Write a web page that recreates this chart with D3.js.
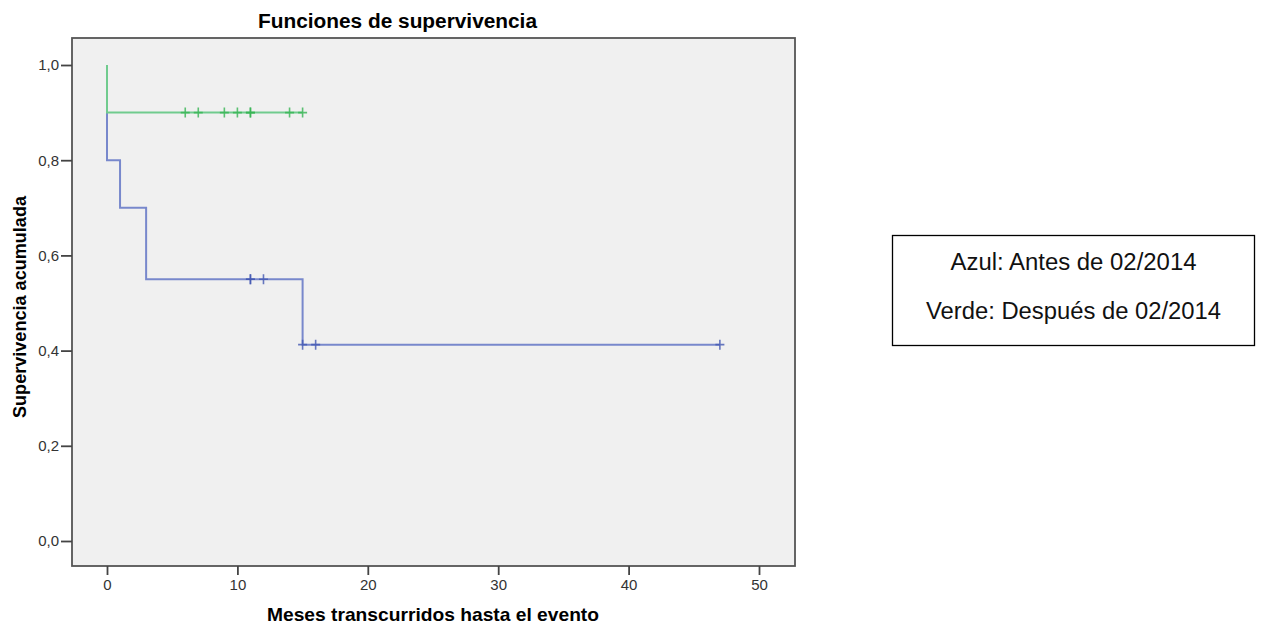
<!doctype html>
<html lang="es">
<head>
<meta charset="utf-8">
<title>Funciones de supervivencia</title>
<script src="https://cdn.jsdelivr.net/npm/d3@7"></script>
<style>
  html, body { margin: 0; padding: 0; background: #fff; }
  svg { display: block; font-family: "Liberation Sans", Arial, sans-serif; }
</style>
</head>
<body>
<svg id="chart" width="1261" height="626"></svg>
<script>
// Kaplan-Meier steps: time of each drop and survival after it
var blueTimes = [0, 1, 3, 15];
var blueSurv = [0.8, 0.7, 0.55, 0.4125];
var blueEnd = 47;
var blueCensor = [11, 11, 12, 15, 16, 47];

var greenTimes = [0];
var greenSurv = [0.9];
var greenEnd = 15;
var greenCensor = [6, 7, 9, 10, 11, 11, 14, 15];

var xTicks = [0, 10, 20, 30, 40, 50];
var yTicks = [0, 0.2, 0.4, 0.6, 0.8, 1.0];
var legendLines = ["Azul: Antes de 02/2014", "Verde: Después de 02/2014"];

var svg = d3.select("#chart");

var box = { left: 72, top: 38, right: 795, bottom: 566 };

var x = d3.scaleLinear().domain([0, 50]).range([107, 759]);
var y = d3.scaleLinear().domain([0, 1]).range([541, 65]);

// plot area
svg.append("rect")
  .attr("x", box.left).attr("y", box.top)
  .attr("width", box.right - box.left).attr("height", box.bottom - box.top)
  .attr("fill", "#f0f0f0")
  .attr("stroke", "#555").attr("stroke-width", 1.8);

// axes
var fmt = function (d) { return d3.format(".1f")(d).replace(".", ","); };

var gy = svg.append("g").attr("transform", "translate(" + box.left + ",0)")
  .call(d3.axisLeft(y).tickValues(yTicks).tickFormat(fmt).tickSize(11).tickPadding(2));
var gx = svg.append("g").attr("transform", "translate(0," + box.bottom + ")")
  .call(d3.axisBottom(x).tickValues(xTicks).tickFormat(d3.format("d")).tickSize(9).tickPadding(4));

[gx, gy].forEach(function (g) {
  g.select(".domain").remove();
  g.selectAll(".tick line").attr("stroke", "#444").attr("stroke-width", 1.8);
  g.selectAll(".tick text").attr("fill", "#333").attr("font-size", 15)
    .attr("font-family", "'Liberation Sans Narrow', 'Liberation Sans', Arial, sans-serif");
});

// survival curves
function stepPath(times, surv, end) {
  var pts = [[0, 1]];
  var cur = 1;
  times.forEach(function (t, i) {
    pts.push([t, cur]);
    pts.push([t, surv[i]]);
    cur = surv[i];
  });
  pts.push([end, cur]);
  return pts;
}
function survAt(times, surv, t) {
  var s = 1;
  times.forEach(function (tt, i) { if (tt <= t) s = surv[i]; });
  return s;
}

var line = d3.line().x(function (d) { return x(d[0]); }).y(function (d) { return y(d[1]); });

var series = [
  { times: blueTimes, surv: blueSurv, end: blueEnd, censor: blueCensor, line: "#7888cc", mark: "#4258b2" },
  { times: greenTimes, surv: greenSurv, end: greenEnd, censor: greenCensor, line: "#70cb8e", mark: "#36b453" }
];

series.forEach(function (s) {
  svg.append("path")
    .attr("d", line(stepPath(s.times, s.surv, s.end)))
    .attr("fill", "none")
    .attr("stroke", s.line)
    .attr("stroke-width", 2);

  svg.append("g").selectAll("path")
    .data(s.censor).enter()
    .append("path")
      .attr("d", function (t) {
        var cx = x(t), cy = y(survAt(s.times, s.surv, t));
        return "M" + (cx - 4.5) + "," + cy + "H" + (cx + 4.5) +
               "M" + cx + "," + (cy - 5) + "V" + (cy + 5);
      })
      .attr("stroke", s.mark)
      .attr("stroke-width", 1.6)
      .attr("stroke-opacity", 0.8)
      .attr("fill", "none");
});

// titles
svg.append("text")
  .attr("x", 397.5).attr("y", 28)
  .attr("text-anchor", "middle")
  .attr("font-size", 20).attr("font-weight", "bold")
  .attr("textLength", 279).attr("lengthAdjust", "spacingAndGlyphs")
  .text("Funciones de supervivencia");

svg.append("text")
  .attr("x", 433).attr("y", 621)
  .attr("text-anchor", "middle")
  .attr("font-size", 19).attr("font-weight", "bold")
  .attr("textLength", 332).attr("lengthAdjust", "spacingAndGlyphs")
  .text("Meses transcurridos hasta el evento");

svg.append("text")
  .attr("transform", "translate(26,307) rotate(-90)")
  .attr("text-anchor", "middle")
  .attr("font-size", 18).attr("font-weight", "bold")
  .attr("textLength", 222).attr("lengthAdjust", "spacingAndGlyphs")
  .text("Supervivencia acumulada");

// legend box
svg.append("rect")
  .attr("x", 892.5).attr("y", 235.5)
  .attr("width", 362).attr("height", 110)
  .attr("fill", "#fff").attr("stroke", "#000").attr("stroke-width", 1.3);

var legendWidths = [246, 295];
svg.append("g").selectAll("text")
  .data(legendLines).enter()
  .append("text")
    .attr("x", 1073.5)
    .attr("y", function (d, i) { return 270 + i * 49; })
    .attr("text-anchor", "middle")
    .attr("font-size", 23.5)
    .attr("fill", "#111")
    .attr("textLength", function (d, i) { return legendWidths[i]; })
    .attr("lengthAdjust", "spacingAndGlyphs")
    .text(function (d) { return d; });
</script>
</body>
</html>
